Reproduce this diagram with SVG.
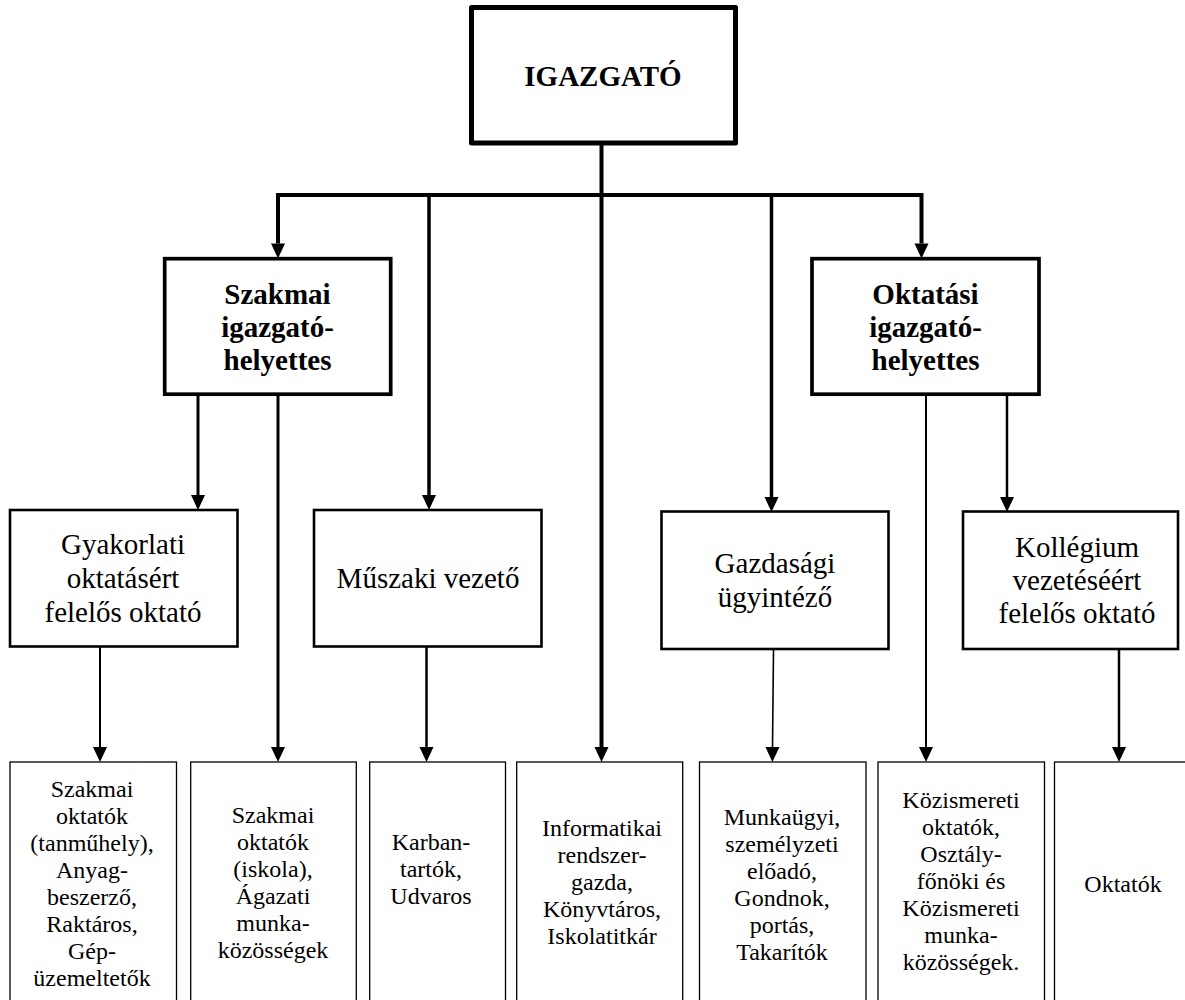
<svg xmlns="http://www.w3.org/2000/svg" width="1185" height="1000" viewBox="0 0 1185 1000" font-family="'Liberation Serif', 'Times New Roman', Times, serif">
<defs>
<style>
text{font-family:'Liberation Serif','Times New Roman',Times,serif}
.t{fill:#000;text-anchor:middle}
.b{font-weight:bold;font-size:29px}
.m{font-size:29px}
.s{font-size:24px}
.box0{fill:#fff;stroke:#000;stroke-width:5;stroke-linejoin:round}
.box1{fill:#fff;stroke:#000;stroke-width:3.7}
.box2{fill:#fff;stroke:#000;stroke-width:2.6}
.box3{fill:#fff;stroke:#000;stroke-width:1.3}
.c{fill:none;stroke:#000;stroke-linejoin:miter}
</style>
<marker id="ah" markerUnits="userSpaceOnUse" markerWidth="16" markerHeight="16" overflow="visible" orient="auto" refX="0" refY="0">
<path d="M0,-7 L15,0 L0,7 Z" fill="#000"/>
</marker>
</defs>
<g id="connectors">
<path class="c" stroke-width="4" d="M601.5,145 V747" marker-end="url(#ah)"/>
<path class="c" stroke-width="4" d="M601.5,195 H278 V243.5" marker-end="url(#ah)"/>
<path class="c" stroke-width="4" d="M601.5,195 H921.5 V243.5" marker-end="url(#ah)"/>
<path class="c" stroke-width="3.5" d="M429,195 V495" marker-end="url(#ah)"/>
<path class="c" stroke-width="3.5" d="M771.5,195 V497" marker-end="url(#ah)"/>
<path class="c" stroke-width="3" d="M198,395 V495" marker-end="url(#ah)"/>
<path class="c" stroke-width="3" d="M278,395 V747" marker-end="url(#ah)"/>
<path class="c" stroke-width="2" d="M926,395 V747" marker-end="url(#ah)"/>
<path class="c" stroke-width="2.5" d="M1007,395 V497" marker-end="url(#ah)"/>
<path class="c" stroke-width="2" d="M100,647 V747" marker-end="url(#ah)"/>
<path class="c" stroke-width="2.5" d="M426.5,647 V747" marker-end="url(#ah)"/>
<path class="c" stroke-width="1.6" d="M773.5,650 L772.5,747" marker-end="url(#ah)"/>
<path class="c" stroke-width="2.5" d="M1119,650 V747" marker-end="url(#ah)"/>
</g>
<g id="igazgato">
<rect class="box0" x="471.5" y="7.5" width="264" height="135.5"/>
<text class="t b" x="603" y="86">IGAZGATÓ</text>
</g>
<g id="szakmai-ih">
<rect class="box1" x="164.7" y="258.7" width="226" height="135.5"/>
<text class="t b" x="277.5" y="304">Szakmai</text>
<text class="t b" x="277.5" y="337">igazgató-</text>
<text class="t b" x="277.5" y="370">helyettes</text>
</g>
<g id="oktatasi-ih">
<rect class="box1" x="812" y="258.7" width="227" height="135.5"/>
<text class="t b" x="925.5" y="304">Oktatási</text>
<text class="t b" x="925.5" y="337">igazgató-</text>
<text class="t b" x="925.5" y="370">helyettes</text>
</g>
<g id="gyakorlati">
<rect class="box2" x="10" y="510" width="227.5" height="136.5"/>
<text class="t m" x="123" y="554">Gyakorlati</text>
<text class="t m" x="123" y="588">oktatásért</text>
<text class="t m" x="123" y="622">felelős oktató</text>
</g>
<g id="muszaki">
<rect class="box2" x="314" y="510" width="227.5" height="136.5"/>
<text class="t m" x="428" y="588">Műszaki vezető</text>
</g>
<g id="gazdasagi">
<rect class="box2" x="661.5" y="511.5" width="227" height="137.5"/>
<text class="t m" x="775" y="573">Gazdasági</text>
<text class="t m" x="775" y="607">ügyintéző</text>
</g>
<g id="kollegium">
<rect class="box2" x="963" y="511.5" width="215" height="137.5"/>
<text class="t m" x="1077" y="557">Kollégium</text>
<text class="t m" x="1077" y="590">vezetéséért</text>
<text class="t m" x="1077" y="623">felelős oktató</text>
</g>
<g id="b1">
<rect class="box3" x="10" y="762" width="166.5" height="260"/>
<text class="t s" x="92" y="797">Szakmai</text>
<text class="t s" x="92" y="824">oktatók</text>
<text class="t s" x="92" y="851">(tanműhely),</text>
<text class="t s" x="92" y="878">Anyag-</text>
<text class="t s" x="92" y="905">beszerző,</text>
<text class="t s" x="92" y="932">Raktáros,</text>
<text class="t s" x="92" y="959">Gép-</text>
<text class="t s" x="92" y="986">üzemeltetők</text>
</g>
<g id="b2">
<rect class="box3" x="190.7" y="762" width="165.6" height="260"/>
<text class="t s" x="273" y="823">Szakmai</text>
<text class="t s" x="273" y="850">oktatók</text>
<text class="t s" x="273" y="877">(iskola),</text>
<text class="t s" x="273" y="904">Ágazati</text>
<text class="t s" x="273" y="931">munka-</text>
<text class="t s" x="273" y="958">közösségek</text>
</g>
<g id="b3">
<rect class="box3" x="369.7" y="762" width="135.8" height="260"/>
<text class="t s" x="431" y="850">Karban-</text>
<text class="t s" x="431" y="877">tartók,</text>
<text class="t s" x="431" y="904">Udvaros</text>
</g>
<g id="b4">
<rect class="box3" x="516.7" y="762" width="166" height="260"/>
<text class="t s" x="602" y="836">Informatikai</text>
<text class="t s" x="602" y="863">rendszer-</text>
<text class="t s" x="602" y="890">gazda,</text>
<text class="t s" x="602" y="917">Könyvtáros,</text>
<text class="t s" x="602" y="944">Iskolatitkár</text>
</g>
<g id="b5">
<rect class="box3" x="699.5" y="762" width="166.5" height="260"/>
<text class="t s" x="782" y="825">Munkaügyi,</text>
<text class="t s" x="782" y="852">személyzeti</text>
<text class="t s" x="782" y="879">előadó,</text>
<text class="t s" x="782" y="906">Gondnok,</text>
<text class="t s" x="782" y="933">portás,</text>
<text class="t s" x="782" y="960">Takarítók</text>
</g>
<g id="b6">
<rect class="box3" x="878" y="762" width="166.5" height="260"/>
<text class="t s" x="961" y="808">Közismereti</text>
<text class="t s" x="961" y="835">oktatók,</text>
<text class="t s" x="961" y="862">Osztály-</text>
<text class="t s" x="961" y="889">főnöki és</text>
<text class="t s" x="961" y="916">Közismereti</text>
<text class="t s" x="961" y="943">munka-</text>
<text class="t s" x="961" y="970">közösségek.</text>
</g>
<g id="b7">
<rect class="box3" x="1054.5" y="762" width="150" height="260"/>
<text class="t s" x="1123" y="892">Oktatók</text>
</g>
</svg>
